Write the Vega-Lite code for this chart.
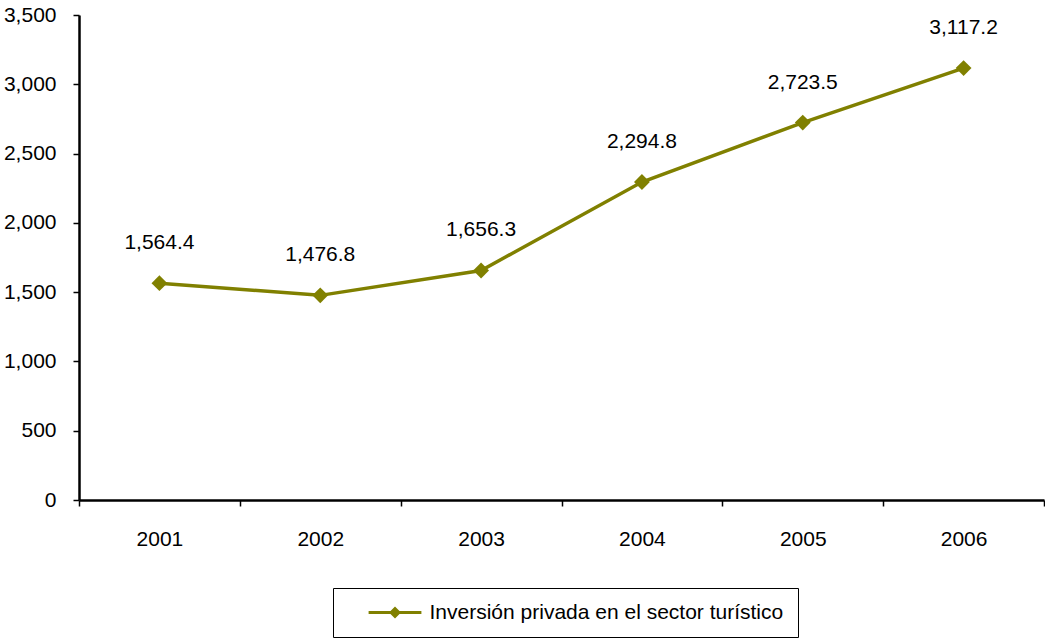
{
  "$schema": "https://vega.github.io/schema/vega-lite/v6.json",
  "width": 965,
  "height": 485,
  "autosize": {"type": "none"},
  "padding": {"left": 79, "top": 15, "right": 1, "bottom": 141},
  "background": "white",
  "config": {
    "view": {"stroke": null},
    "font": "Liberation Sans",
    "axis": {"grid": false, "labelFont": "Liberation Sans", "labelFontSize": 21, "labelColor": "black", "domainColor": "black", "tickColor": "black"}
  },
  "data": {
    "values": [
      {"year": 2001, "value": 1564.4, "serie": "Inversión privada en el sector turístico"},
      {"year": 2002, "value": 1476.8, "serie": "Inversión privada en el sector turístico"},
      {"year": 2003, "value": 1656.3, "serie": "Inversión privada en el sector turístico"},
      {"year": 2004, "value": 2294.8, "serie": "Inversión privada en el sector turístico"},
      {"year": 2005, "value": 2723.5, "serie": "Inversión privada en el sector turístico"},
      {"year": 2006, "value": 3117.2, "serie": "Inversión privada en el sector turístico"}
    ]
  },
  "encoding": {
    "y": {
      "field": "value", "type": "quantitative",
      "scale": {"domain": [0, 3500], "nice": false},
      "axis": {"title": null, "values": [0, 500, 1000, 1500, 2000, 2500, 3000, 3500], "format": ",.0f", "tickSize": 6, "tickWidth": 1.5, "domainWidth": 2.5, "labelPadding": 17}
    }
  },
  "layer": [
    {
      "mark": {"type": "line", "color": "#808000", "strokeWidth": 3.5},
      "encoding": {
        "x": {
          "field": "year", "type": "quantitative",
          "scale": {"domain": [2000.5, 2006.5], "nice": false, "zero": false},
          "axis": {"title": null, "orient": "bottom", "values": [2000.5, 2001.5, 2002.5, 2003.5, 2004.5, 2005.5, 2006.5], "labels": false, "tickSize": 6, "tickWidth": 1.5, "domainWidth": 2.5}
        }
      }
    },
    {
      "mark": {"type": "point", "shape": "diamond", "filled": true, "size": 250, "opacity": 1},
      "encoding": {
        "x": {"field": "year", "type": "quantitative", "axis": null},
        "color": {
          "field": "serie", "type": "nominal",
          "scale": {"range": ["#808000"]},
          "legend": {
            "title": null,
            "orient": "none",
            "legendX": 254,
            "legendY": 573,
            "strokeColor": "black",
            "padding": 14,
            "labelFont": "Liberation Sans",
            "labelFontSize": 21,
            "labelColor": "black",
            "labelLimit": 0,
            "symbolSize": 144,
            "symbolOffset": 37.5,
            "labelOffset": 24,
            "symbolType": "M-4.4,-0.25L4.4,-0.25L4.4,0.25L-4.4,0.25Z M0,-1L1,0L0,1L-1,0Z",
            "symbolStrokeWidth": 0,
            "symbolFillColor": "#808000"
          }
        }
      }
    },
    {
      "mark": {"type": "text", "dy": -40, "fontSize": 21, "font": "Liberation Sans", "color": "black", "baseline": "middle"},
      "encoding": {
        "x": {
          "field": "year", "type": "quantitative",
          "axis": {"title": null, "orient": "bottom", "values": [2001, 2002, 2003, 2004, 2005, 2006], "format": "d", "ticks": false, "tickSize": 0, "domain": false, "labelPadding": 28}
        },
        "text": {"field": "value", "type": "quantitative", "format": ",.1f"}
      }
    }
  ],
  "resolve": {"axis": {"x": "independent"}}
}
